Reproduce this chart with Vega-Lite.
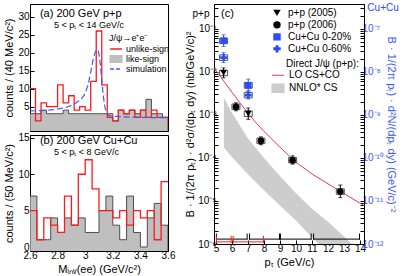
{
"$schema": "https://vega.github.io/schema/vega-lite/v6.json",
"background": "white",
"padding": {"left": 3, "top": 2, "right": 0, "bottom": 2},
"spacing": 8,
"config": {
  "font": "Liberation Sans",
  "view": {"stroke": "black", "strokeWidth": 1},
  "axis": {"grid": false, "domainColor": "black", "tickColor": "black", "labelColor": "black", "titleColor": "black", "labelFontSize": 10, "titleFontSize": 11, "titleFontWeight": "normal", "tickSize": -4, "labelPadding": 3, "titlePadding": 3, "labelFlush": false, "labelOverlap": false},
  "axisY": {"labelPadding": 5},
  "legend": {"titleFontWeight": "normal", "titleColor": "black", "labelColor": "black", "padding": 0}
},
"datasets": {
  "likeA": [{"m":2.60,"n":3},{"m":2.64,"n":3},{"m":2.68,"n":4},{"m":2.72,"n":3},{"m":2.76,"n":3},{"m":2.80,"n":3},{"m":2.84,"n":4},{"m":2.88,"n":3},{"m":2.92,"n":3},{"m":2.96,"n":3},{"m":3.00,"n":3},{"m":3.04,"n":3},{"m":3.08,"n":3},{"m":3.12,"n":3},{"m":3.16,"n":3},{"m":3.20,"n":1},{"m":3.24,"n":4},{"m":3.28,"n":3},{"m":3.32,"n":4},{"m":3.36,"n":3},{"m":3.40,"n":4},{"m":3.44,"n":7},{"m":3.48,"n":3},{"m":3.52,"n":3},{"m":3.56,"n":2},{"m":3.60,"n":2}],
  "unlikeA": [{"m":2.60,"n":10},{"m":2.64,"n":1},{"m":2.68,"n":6},{"m":2.72,"n":5},{"m":2.76,"n":5},{"m":2.80,"n":11},{"m":2.84,"n":6},{"m":2.88,"n":8},{"m":2.92,"n":4},{"m":2.96,"n":5},{"m":3.00,"n":4},{"m":3.04,"n":12},{"m":3.08,"n":26},{"m":3.12,"n":11},{"m":3.16,"n":2},{"m":3.20,"n":1},{"m":3.24,"n":4},{"m":3.28,"n":3},{"m":3.32,"n":4},{"m":3.36,"n":2},{"m":3.40,"n":4},{"m":3.44,"n":2},{"m":3.48,"n":4},{"m":3.52,"n":2},{"m":3.56,"n":2},{"m":3.60,"n":2}],
  "sim": [{"m":2.60,"n":3.8},{"m":2.70,"n":3.9},{"m":2.80,"n":4.3},{"m":2.88,"n":5.0},{"m":2.94,"n":6.2},{"m":2.98,"n":7.5},{"m":3.00,"n":8.8},{"m":3.02,"n":11.0},{"m":3.04,"n":14.5},{"m":3.06,"n":18.5},{"m":3.08,"n":20.6},{"m":3.09,"n":20.8},{"m":3.10,"n":19.5},{"m":3.11,"n":16.5},{"m":3.12,"n":12.5},{"m":3.13,"n":8.5},{"m":3.14,"n":5.5},{"m":3.16,"n":3.0},{"m":3.18,"n":2.4},{"m":3.25,"n":2.2},{"m":3.40,"n":2.0},{"m":3.60,"n":1.9}],
  "likeB": [{"m":2.60,"n":7},{"m":2.65,"n":1},{"m":2.70,"n":1},{"m":2.75,"n":4},{"m":2.80,"n":2},{"m":2.85,"n":4},{"m":2.90,"n":3},{"m":2.95,"n":4},{"m":3.00,"n":2},{"m":3.05,"n":2},{"m":3.10,"n":5},{"m":3.15,"n":7},{"m":3.20,"n":3},{"m":3.25,"n":1},{"m":3.30,"n":7},{"m":3.35,"n":2},{"m":3.40,"n":0},{"m":3.45,"n":4},{"m":3.50,"n":6},{"m":3.55,"n":3},{"m":3.60,"n":3}],
  "unlikeB": [{"m":2.60,"n":5},{"m":2.65,"n":1},{"m":2.70,"n":4},{"m":2.75,"n":3},{"m":2.80,"n":2},{"m":2.85,"n":7},{"m":2.90,"n":3},{"m":2.95,"n":10},{"m":3.00,"n":12},{"m":3.05,"n":8},{"m":3.10,"n":5},{"m":3.15,"n":5},{"m":3.20,"n":4},{"m":3.25,"n":5},{"m":3.30,"n":3},{"m":3.35,"n":5},{"m":3.40,"n":4},{"m":3.45,"n":5},{"m":3.50,"n":1},{"m":3.55,"n":9},{"m":3.60,"n":9}],
  "band": [{"pt":5.5,"lo":1.74e-4,"hi":2.51e-3},{"pt":6,"lo":1.05e-4,"hi":1.12e-3},{"pt":7,"lo":4.17e-5,"hi":2.82e-4},{"pt":8,"lo":1.78e-5,"hi":1.0e-4},{"pt":9,"lo":7.9e-6,"hi":3.8e-5},{"pt":10,"lo":3.5e-6,"hi":1.51e-5},{"pt":11,"lo":1.41e-6,"hi":6.6e-6},{"pt":12,"lo":6.3e-7,"hi":3.3e-6},{"pt":13,"lo":3e-7,"hi":1.5e-6},{"pt":13.5,"lo":2e-7,"hi":1e-6}],
  "lo": [{"pt":4.88,"y":0.0123},{"pt":5.5,"y":6.03e-3},{"pt":6,"y":3.39e-3},{"pt":6.5,"y":1.91e-3},{"pt":7,"y":1.10e-3},{"pt":7.5,"y":6.6e-4},{"pt":8,"y":4.17e-4},{"pt":9,"y":1.78e-4},{"pt":10,"y":7.94e-5},{"pt":11,"y":4.27e-5},{"pt":12,"y":2.51e-5},{"pt":13,"y":1.48e-5},{"pt":14,"y":8.9e-6},{"pt":14.25,"y":7.9e-6}],
  "pp": [
    {"pt":5.48,"y":9.5e-3,"elo":7.3e-3,"ehi":1.24e-2,"sx1":5.23,"sx2":5.73,"slo":8.2e-3,"shi":1.1e-2,"series":"p+p (2005)"},
    {"pt":7.02,"y":1.07e-3,"elo":7.9e-4,"ehi":1.45e-3,"sx1":6.77,"sx2":7.27,"slo":9.2e-4,"shi":1.24e-3,"series":"p+p (2005)"},
    {"pt":6.25,"y":1.55e-3,"elo":1.25e-3,"ehi":1.92e-3,"sx1":6.0,"sx2":6.5,"slo":1.33e-3,"shi":1.8e-3,"series":"p+p (2006)"},
    {"pt":7.81,"y":2.5e-4,"elo":2.03e-4,"ehi":3.1e-4,"sx1":7.56,"sx2":8.06,"slo":2.15e-4,"shi":2.9e-4,"series":"p+p (2006)"},
    {"pt":9.79,"y":8.9e-5,"elo":7.2e-5,"ehi":1.12e-4,"sx1":9.54,"sx2":10.04,"slo":7.7e-5,"shi":1.03e-4,"series":"p+p (2006)"},
    {"pt":12.77,"y":1.66e-5,"elo":1.2e-5,"ehi":2.35e-5,"sx1":12.52,"sx2":13.02,"slo":1.43e-5,"shi":1.92e-5,"series":"p+p (2006)"}
  ],
  "cu": [
    {"pt":5.48,"y":5.3e-8,"elo":3.9e-8,"ehi":7.3e-8,"sx1":5.23,"sx2":5.73,"slo":4.6e-8,"shi":6.1e-8,"series":"Cu+Cu 0-20%"},
    {"pt":7.02,"y":4.9e-9,"elo":3.6e-9,"ehi":6.8e-9,"sx1":6.77,"sx2":7.27,"slo":4.2e-9,"shi":5.7e-9,"series":"Cu+Cu 0-20%"},
    {"pt":5.48,"y":2.15e-8,"elo":1.65e-8,"ehi":2.8e-8,"sx1":5.23,"sx2":5.73,"slo":1.85e-8,"shi":2.5e-8,"series":"Cu+Cu 0-60%"},
    {"pt":7.02,"y":2.9e-9,"elo":2.35e-9,"ehi":3.6e-9,"sx1":6.77,"sx2":7.27,"slo":2.5e-9,"shi":3.35e-9,"series":"Cu+Cu 0-60%"}
  ],
  "brackets": [
    {"x1":5.03,"x2":6.95,"set":"pp"},{"x1":7.1,"x2":8.97,"set":"pp"},{"x1":9.03,"x2":10.95,"set":"pp"},{"x1":11.1,"x2":13.97,"set":"pp"},
    {"x1":5.03,"x2":5.95,"set":"cu"},{"x1":6.08,"x2":7.97,"set":"cu"}
  ],
  "one": [{}]
},
"resolve": {"scale": {"color": "independent", "fill": "independent", "shape": "independent"}, "legend": {"color": "independent", "fill": "independent", "shape": "independent"}},
"hconcat": [
  {
    "vconcat": [
      {
        "width": 138, "height": 127,
        "layer": [
          {"data": {"name": "likeA"},
           "mark": {"type": "area", "interpolate": "step-after", "stroke": "#4d4d4d", "strokeWidth": 1, "clip": true},
           "encoding": {
             "x": {"field": "m", "type": "quantitative", "scale": {"domain": [2.6, 3.6], "nice": false}, "axis": {"title": null, "labels": false, "values": [2.6, 2.8, 3.0, 3.2, 3.4, 3.6], "tickCount": 50}},
             "y": {"field": "n", "type": "quantitative", "scale": {"domain": [-1.8, 33.5], "nice": false, "zero": false}, "axis": {"title": "counts / (40 MeV/c²)", "values": [5, 10, 15, 20, 25, 30], "format": "d", "tickCount": 50, "labelOverlap": false}},
             "y2": {"datum": -5},
             "color": {"datum": "like-sign", "type": "nominal",
               "scale": {"domain": ["unlike-sign", "like-sign", "simulation"], "range": ["#ff1a1a", "#bfbfbf", "#3d5afe"]},
               "legend": {"orient": "none", "legendX": 79, "legendY": 30, "title": "J/ψ→e⁺e⁻", "titleFontSize": 9, "titleFontWeight": "normal", "titlePadding": 1, "labelFontSize": 9, "symbolSize": 140, "rowPadding": 0, "clipHeight": 10, "labelOffset": 3,
                 "encode": {"symbols": {"update": {
                   "shape": {"signal": "datum.value === 'like-sign' ? 'M-1,-0.55H1V0.55H-1Z' : 'stroke'"},
                   "fill": {"signal": "datum.value === 'like-sign' ? '#bfbfbf' : 'transparent'"},
                   "stroke": {"signal": "datum.value === 'unlike-sign' ? '#ff1a1a' : datum.value === 'simulation' ? '#3d5afe' : '#4d4d4d'"},
                   "strokeDash": {"signal": "datum.value === 'simulation' ? [4, 2] : [1, 0]"},
                   "strokeWidth": {"value": 1.3}, "opacity": {"value": 1}}}}}}
           }},
          {"data": {"name": "unlikeA"},
           "mark": {"type": "line", "interpolate": "step-after", "strokeWidth": 1.3, "clip": true},
           "encoding": {"x": {"field": "m", "type": "quantitative"}, "y": {"field": "n", "type": "quantitative"},
             "color": {"datum": "unlike-sign", "type": "nominal",
               "legend": {"orient": "none", "legendX": 79, "legendY": 30, "title": "J/ψ→e⁺e⁻", "titleFontSize": 9, "titleFontWeight": "normal", "titlePadding": 1, "labelFontSize": 9, "symbolSize": 140, "rowPadding": 0, "clipHeight": 10, "labelOffset": 3,
                 "encode": {"symbols": {"update": {
                   "shape": {"signal": "datum.value === 'like-sign' ? 'M-1,-0.55H1V0.55H-1Z' : 'stroke'"},
                   "fill": {"signal": "datum.value === 'like-sign' ? '#bfbfbf' : 'transparent'"},
                   "stroke": {"signal": "datum.value === 'unlike-sign' ? '#ff1a1a' : datum.value === 'simulation' ? '#3d5afe' : '#4d4d4d'"},
                   "strokeDash": {"signal": "datum.value === 'simulation' ? [4, 2] : [1, 0]"},
                   "strokeWidth": {"value": 1.3}, "opacity": {"value": 1}}}}}}}},
          {"data": {"name": "sim"},
           "mark": {"type": "line", "strokeDash": [6, 3], "strokeWidth": 1.2, "interpolate": "monotone", "clip": true},
           "encoding": {"x": {"field": "m", "type": "quantitative"}, "y": {"field": "n", "type": "quantitative"},
             "color": {"datum": "simulation", "type": "nominal",
               "legend": {"orient": "none", "legendX": 79, "legendY": 30, "title": "J/ψ→e⁺e⁻", "titleFontSize": 9, "titleFontWeight": "normal", "titlePadding": 1, "labelFontSize": 9, "symbolSize": 140, "rowPadding": 0, "clipHeight": 10, "labelOffset": 3,
                 "encode": {"symbols": {"update": {
                   "shape": {"signal": "datum.value === 'like-sign' ? 'M-1,-0.55H1V0.55H-1Z' : 'stroke'"},
                   "fill": {"signal": "datum.value === 'like-sign' ? '#bfbfbf' : 'transparent'"},
                   "stroke": {"signal": "datum.value === 'unlike-sign' ? '#ff1a1a' : datum.value === 'simulation' ? '#3d5afe' : '#4d4d4d'"},
                   "strokeDash": {"signal": "datum.value === 'simulation' ? [4, 2] : [1, 0]"},
                   "strokeWidth": {"value": 1.3}, "opacity": {"value": 1}}}}}}}},
          {"data": {"name": "one"},
           "mark": {"type": "text", "text": "(a) 200 GeV p+p", "align": "left", "baseline": "middle", "fontSize": 11},
           "encoding": {"x": {"datum": 2.672, "type": "quantitative"}, "y": {"datum": 30.8, "type": "quantitative"}}},
          {"data": {"name": "one"},
           "mark": {"type": "text", "text": "5 < pₜ < 14 GeV/c", "align": "left", "baseline": "middle", "fontSize": 9},
           "encoding": {"x": {"datum": 2.774, "type": "quantitative"}, "y": {"datum": 27.7, "type": "quantitative"}}}
        ]
      },
      {
        "width": 138, "height": 116,
        "layer": [
          {"data": {"name": "likeB"},
           "mark": {"type": "area", "interpolate": "step-after", "fill": "#bfbfbf", "stroke": "#4d4d4d", "strokeWidth": 1, "clip": true},
           "encoding": {
             "x": {"field": "m", "type": "quantitative", "scale": {"domain": [2.6, 3.6], "nice": false}, "axis": {"title": "Mᵢₙᵥ(ee) (GeV/c²)", "values": [2.6, 2.8, 3.0, 3.2, 3.4, 3.6], "format": "~g", "tickCount": 50, "labelOverlap": false}},
             "y": {"field": "n", "type": "quantitative", "scale": {"domain": [-0.55, 15.4], "nice": false, "zero": false}, "axis": {"title": "counts / (50 MeV/c²)", "values": [0, 5, 10, 15], "format": "d", "tickCount": 50, "labelOverlap": false}},
             "y2": {"datum": -5}
           }},
          {"data": {"name": "unlikeB"},
           "mark": {"type": "line", "interpolate": "step-after", "stroke": "#ff1a1a", "strokeWidth": 1.3, "clip": true},
           "encoding": {"x": {"field": "m", "type": "quantitative"}, "y": {"field": "n", "type": "quantitative"}}},
          {"data": {"name": "one"},
           "mark": {"type": "text", "text": "(b) 200 GeV Cu+Cu", "align": "left", "baseline": "middle", "fontSize": 11},
           "encoding": {"x": {"datum": 2.672, "type": "quantitative"}, "y": {"datum": 14.6, "type": "quantitative"}}},
          {"data": {"name": "one"},
           "mark": {"type": "text", "text": "5 < pₜ < 8 GeV/c", "align": "left", "baseline": "middle", "fontSize": 9},
           "encoding": {"x": {"datum": 2.774, "type": "quantitative"}, "y": {"datum": 13.1, "type": "quantitative"}}}
        ]
      }
    ],
    "spacing": 0
  },
  {
    "width": 150, "height": 240,
    "layer": [
      {
        "layer": [
          {"data": {"name": "band"},
           "mark": {"type": "area", "clip": true},
           "encoding": {
             "x": {"field": "pt", "type": "quantitative", "scale": {"domain": [4.88, 14.25], "nice": false, "zero": false}, "axis": {"title": "pₜ (GeV/c)", "values": [5, 6, 7, 8, 9, 10, 11, 12, 13, 14], "format": "d", "tickCount": 50, "labelOverlap": false}},
             "y": {"field": "hi", "type": "quantitative", "scale": {"type": "log", "domain": [1e-6, 0.38], "nice": false},
               "axis": {"orient": "left", "title": "B · 1/(2π pₜ) · d²σ/(dpₜ dy)  (nb/GeV/c)²",
                 "values": [1e-6,2e-6,3e-6,4e-6,5e-6,6e-6,7e-6,8e-6,9e-6,1e-5,2e-5,3e-5,4e-5,5e-5,6e-5,7e-5,8e-5,9e-5,1e-4,2e-4,3e-4,4e-4,5e-4,6e-4,7e-4,8e-4,9e-4,1e-3,2e-3,3e-3,4e-3,5e-3,6e-3,7e-3,8e-3,9e-3,0.01,0.02,0.03,0.04,0.05,0.06,0.07,0.08,0.09,0.1,0.2,0.3],
                 "tickCount": 200,
                 "labelExpr": "abs(log(datum.value)/LN10 - round(log(datum.value)/LN10)) < 0.01 ? '10' + ['⁰','⁻¹','⁻²','⁻³','⁻⁴','⁻⁵','⁻⁶','⁻⁷','⁻⁸','⁻⁹','⁻¹⁰','⁻¹¹','⁻¹²'][round(-log(datum.value)/LN10)] : ''",
                 "labelPadding": 2, "titlePadding": 2, "labelOverlap": false,
                 "encode": {"ticks": {"update": {"x2": {"signal": "abs(log(datum.value)/LN10 - round(log(datum.value)/LN10)) < 0.01 ? 5 : 2.5"}}}}}},
             "y2": {"field": "lo"},
             "color": {"datum": "NNLO* CS", "type": "nominal",
               "scale": {"domain": ["LO CS+CO", "NNLO* CS"], "range": ["#e2386f", "#cdcdcd"]},
               "legend": {"orient": "none", "legendX": 57, "legendY": 55, "title": "Direct J/ψ (p+p):", "titleFontSize": 10, "titleFontWeight": "normal", "titlePadding": 0, "labelFontSize": 10, "symbolSize": 144, "rowPadding": 0, "clipHeight": 12.5, "labelOffset": 4,
                 "encode": {"title": {"update": {"dx": {"value": 15}}}, "symbols": {"update": {
                   "shape": {"signal": "datum.value === 'LO CS+CO' ? 'stroke' : 'M-1,-0.7H1V0.7H-1Z'"},
                   "fill": {"signal": "datum.value === 'NNLO* CS' ? '#cdcdcd' : 'transparent'"},
                   "stroke": {"signal": "datum.value === 'LO CS+CO' ? '#e2386f' : '#cdcdcd'"},
                   "strokeWidth": {"value": 1.2}, "opacity": {"value": 1}}}}}}
           }},
          {"data": {"name": "lo"},
           "mark": {"type": "line", "strokeWidth": 1, "clip": true},
           "encoding": {"x": {"field": "pt", "type": "quantitative"}, "y": {"field": "y", "type": "quantitative"},
             "color": {"datum": "LO CS+CO", "type": "nominal",
               "legend": {"orient": "none", "legendX": 57, "legendY": 55, "title": "Direct J/ψ (p+p):", "titleFontSize": 10, "titleFontWeight": "normal", "titlePadding": 0, "labelFontSize": 10, "symbolSize": 144, "rowPadding": 0, "clipHeight": 12.5, "labelOffset": 4,
                 "encode": {"title": {"update": {"dx": {"value": 15}}}, "symbols": {"update": {
                   "shape": {"signal": "datum.value === 'LO CS+CO' ? 'stroke' : 'M-1,-0.7H1V0.7H-1Z'"},
                   "fill": {"signal": "datum.value === 'NNLO* CS' ? '#cdcdcd' : 'transparent'"},
                   "stroke": {"signal": "datum.value === 'LO CS+CO' ? '#e2386f' : '#cdcdcd'"},
                   "strokeWidth": {"value": 1.2}, "opacity": {"value": 1}}}}}}}},
          {"data": {"name": "pp"},
           "mark": {"type": "rect", "filled": false, "stroke": "#555555", "strokeWidth": 1},
           "encoding": {"x": {"field": "sx1", "type": "quantitative"}, "x2": {"field": "sx2"}, "y": {"field": "slo", "type": "quantitative"}, "y2": {"field": "shi"}}},
          {"data": {"name": "pp"},
           "mark": {"type": "rule", "stroke": "black", "strokeWidth": 1},
           "encoding": {"x": {"field": "pt", "type": "quantitative"}, "y": {"field": "elo", "type": "quantitative"}, "y2": {"field": "ehi"}}},
          {"data": {"name": "pp"},
           "mark": {"type": "tick", "orient": "horizontal", "color": "black", "size": 4, "thickness": 1},
           "encoding": {"x": {"field": "pt", "type": "quantitative"}, "y": {"field": "ehi", "type": "quantitative"}}},
          {"data": {"name": "pp"},
           "mark": {"type": "tick", "orient": "horizontal", "color": "black", "size": 4, "thickness": 1},
           "encoding": {"x": {"field": "pt", "type": "quantitative"}, "y": {"field": "elo", "type": "quantitative"}}},
          {"data": {"name": "pp"},
           "mark": {"type": "point", "filled": true, "size": 45, "opacity": 1},
           "encoding": {"x": {"field": "pt", "type": "quantitative"}, "y": {"field": "y", "type": "quantitative"},
             "shape": {"field": "series", "type": "nominal", "scale": {"domain": ["p+p (2005)", "p+p (2006)", "Cu+Cu 0-20%", "Cu+Cu 0-60%"], "range": ["triangle-down", "circle", "square", "cross"]},
               "legend": {"orient": "none", "legendX": 58, "legendY": 3, "title": null, "labelFontSize": 10, "symbolSize": 55, "rowPadding": 0, "clipHeight": 11.7, "labelOffset": 6}},
             "fill": {"field": "series", "type": "nominal", "scale": {"domain": ["p+p (2005)", "p+p (2006)", "Cu+Cu 0-20%", "Cu+Cu 0-60%"], "range": ["black", "black", "#2a4bff", "#2a4bff"]},
               "legend": {"orient": "none", "legendX": 58, "legendY": 3, "title": null, "labelFontSize": 10, "symbolSize": 55, "rowPadding": 0, "clipHeight": 11.7, "labelOffset": 6}}}},
          {"data": {"name": "brackets"},
           "transform": [{"filter": "datum.set === 'pp'"}],
           "layer": [
             {"mark": {"type": "rule", "stroke": "black", "strokeWidth": 1}, "encoding": {"x": {"field": "x1", "type": "quantitative"}, "x2": {"field": "x2"}, "y": {"datum": 1.3e-6, "type": "quantitative"}}},
             {"mark": {"type": "rule", "stroke": "black", "strokeWidth": 1}, "encoding": {"x": {"field": "x1", "type": "quantitative"}, "y": {"datum": 1.25e-6, "type": "quantitative"}, "y2": {"datum": 1.75e-6}}},
             {"mark": {"type": "rule", "stroke": "black", "strokeWidth": 1}, "encoding": {"x": {"field": "x2", "type": "quantitative"}, "y": {"datum": 1.25e-6, "type": "quantitative"}, "y2": {"datum": 1.75e-6}}}
           ]},
          {"data": {"name": "brackets"},
           "transform": [{"filter": "datum.set === 'cu'"}],
           "layer": [
             {"mark": {"type": "rule", "stroke": "#ff1a1a", "strokeWidth": 1}, "encoding": {"x": {"field": "x1", "type": "quantitative"}, "x2": {"field": "x2"}, "y": {"datum": 1.12e-6, "type": "quantitative"}}},
             {"mark": {"type": "rule", "stroke": "#ff1a1a", "strokeWidth": 1}, "encoding": {"x": {"field": "x1", "type": "quantitative"}, "y": {"datum": 1.05e-6, "type": "quantitative"}, "y2": {"datum": 1.55e-6}}},
             {"mark": {"type": "rule", "stroke": "#ff1a1a", "strokeWidth": 1}, "encoding": {"x": {"field": "x2", "type": "quantitative"}, "y": {"datum": 1.05e-6, "type": "quantitative"}, "y2": {"datum": 1.55e-6}}}
           ]},
          {"data": {"name": "one"},
           "mark": {"type": "text", "text": "(c)", "align": "left", "baseline": "middle", "fontSize": 11},
           "encoding": {"x": {"datum": 5.32, "type": "quantitative"}, "y": {"datum": 0.225, "type": "quantitative"}}},
          {"data": {"name": "one"},
           "mark": {"type": "text", "text": "p+p", "align": "center", "baseline": "middle", "fontSize": 10},
           "encoding": {"x": {"datum": 4.07, "type": "quantitative"}, "y": {"datum": 0.225, "type": "quantitative"}}},
          {"data": {"name": "one"},
           "mark": {"type": "text", "text": "Cu+Cu", "align": "center", "baseline": "middle", "fontSize": 10, "fill": "#2a4bff"},
           "encoding": {"x": {"datum": 15.44, "type": "quantitative"}, "y": {"datum": 0.31, "type": "quantitative"}}}
        ]
      },
      {
        "layer": [
          {"data": {"name": "cu"},
           "mark": {"type": "rect", "filled": false, "stroke": "#555555", "strokeWidth": 1},
           "encoding": {"x": {"field": "sx1", "type": "quantitative"}, "x2": {"field": "sx2"},
             "y": {"field": "slo", "type": "quantitative", "scale": {"type": "log", "domain": [1e-12, 3.8e-7], "nice": false},
               "axis": {"orient": "right", "title": "B · 1/(2π pₜ) · d²N/(dpₜ dy)  (GeV/c)⁻²", "titleColor": "#3d5afe", "labelColor": "#3d5afe",
                 "values": [1e-12,2e-12,3e-12,4e-12,5e-12,6e-12,7e-12,8e-12,9e-12,1e-11,2e-11,3e-11,4e-11,5e-11,6e-11,7e-11,8e-11,9e-11,1e-10,2e-10,3e-10,4e-10,5e-10,6e-10,7e-10,8e-10,9e-10,1e-9,2e-9,3e-9,4e-9,5e-9,6e-9,7e-9,8e-9,9e-9,1e-8,2e-8,3e-8,4e-8,5e-8,6e-8,7e-8,8e-8,9e-8,1e-7,2e-7,3e-7],
                 "tickCount": 200,
                 "labelExpr": "abs(log(datum.value)/LN10 - round(log(datum.value)/LN10)) < 0.01 ? '10' + ['⁰','⁻¹','⁻²','⁻³','⁻⁴','⁻⁵','⁻⁶','⁻⁷','⁻⁸','⁻⁹','⁻¹⁰','⁻¹¹','⁻¹²'][round(-log(datum.value)/LN10)] : ''",
                 "labelPadding": 2, "titlePadding": 2, "labelOverlap": false,
                 "encode": {"ticks": {"update": {"x2": {"signal": "abs(log(datum.value)/LN10 - round(log(datum.value)/LN10)) < 0.01 ? -5 : -2.5"}}}}}},
             "y2": {"field": "shi"}}},
          {"data": {"name": "cu"},
           "mark": {"type": "rule", "stroke": "#2a4bff", "strokeWidth": 1},
           "encoding": {"x": {"field": "pt", "type": "quantitative"}, "y": {"field": "elo", "type": "quantitative"}, "y2": {"field": "ehi"}}},
          {"data": {"name": "cu"},
           "mark": {"type": "tick", "orient": "horizontal", "color": "#2a4bff", "size": 4, "thickness": 1},
           "encoding": {"x": {"field": "pt", "type": "quantitative"}, "y": {"field": "ehi", "type": "quantitative"}}},
          {"data": {"name": "cu"},
           "mark": {"type": "tick", "orient": "horizontal", "color": "#2a4bff", "size": 4, "thickness": 1},
           "encoding": {"x": {"field": "pt", "type": "quantitative"}, "y": {"field": "elo", "type": "quantitative"}}},
          {"data": {"name": "cu"},
           "mark": {"type": "point", "filled": true, "size": 45, "opacity": 1},
           "encoding": {"x": {"field": "pt", "type": "quantitative"}, "y": {"field": "y", "type": "quantitative"},
             "shape": {"field": "series", "type": "nominal"},
             "fill": {"field": "series", "type": "nominal"}}}
        ]
      }
    ],
    "resolve": {"scale": {"y": "independent"}, "axis": {"y": "independent"}}
  }
]
}
